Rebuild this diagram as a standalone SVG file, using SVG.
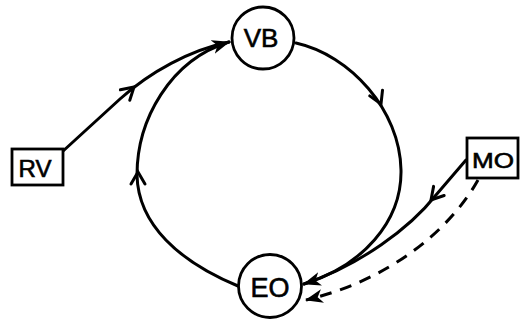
<svg xmlns="http://www.w3.org/2000/svg" width="529" height="323" viewBox="0 0 529 323">
<style>
.ln{fill:none;stroke:#000;stroke-width:3;stroke-linecap:round;stroke-linejoin:round}
.dash{stroke-dasharray:12 9;stroke-linecap:butt}
.chev{fill:none;stroke:#000;stroke-width:3;stroke-linecap:round;stroke-linejoin:miter}
.node{fill:#fff;stroke:#000;stroke-width:2.8}
.lbl{font-family:"Liberation Sans","DejaVu Sans",sans-serif;fill:#000;stroke:#000;stroke-width:0.6;text-anchor:middle}
</style>
<defs>
<marker id="ah" markerUnits="userSpaceOnUse" markerWidth="20" markerHeight="16" refX="17" refY="7" orient="auto">
<path d="M0,0 L18,7 L0,14 L5,7 Z" fill="#000"/>
</marker>
</defs>
<rect width="529" height="323" fill="#fff"/>
<g id="connectors">
<path id="loop-right" class="ln" d="M296,43 C350,55 400,110 401,170 C402,222 362,266 304,284" marker-end="url(#ah)"/>
<path id="loop-left" class="ln" d="M238,286 C180,262 138,225 137,175 C137,120 170,60 229,42" marker-end="url(#ah)"/>
<path id="rv-vb" class="ln" d="M62,152 L120,99 C150,72 190,50 229,42"/>
<path id="mo-eo" class="ln" d="M466,160 L436,195 C410,228 360,265 304,284"/>
<path id="mo-eo-dashed" class="ln dash" d="M478,180 C450,230 390,280 306,300" marker-end="url(#ah)"/>
<path class="chev" d="M-12,-7 L0,0 L-12,7" transform="translate(134,87) rotate(-42)"/>
<path class="chev" d="M-12,-7 L0,0 L-12,7" transform="translate(381,104) rotate(66)"/>
<path class="chev" d="M-12,-7 L0,0 L-12,7" transform="translate(138,172) rotate(-90)"/>
<path class="chev" d="M-12,-7 L0,0 L-12,7" transform="translate(431,200) rotate(131)"/>
</g>
<g id="VB">
<circle class="node" cx="263" cy="38" r="31"/>
<text class="lbl" x="261" y="47" font-size="26">VB</text>
</g>
<g id="EO">
<circle class="node" cx="270" cy="286" r="31.5"/>
<text class="lbl" x="270" y="297" font-size="27">EO</text>
</g>
<g id="RV">
<rect class="node" x="12" y="149" width="51" height="36"/>
<text class="lbl" x="35" y="177" font-size="23" textLength="33" lengthAdjust="spacingAndGlyphs">RV</text>
</g>
<g id="MO">
<rect class="node" x="467" y="138" width="51" height="40"/>
<text class="lbl" x="493" y="168" font-size="22" textLength="42" lengthAdjust="spacingAndGlyphs">MO</text>
</g>
</svg>
